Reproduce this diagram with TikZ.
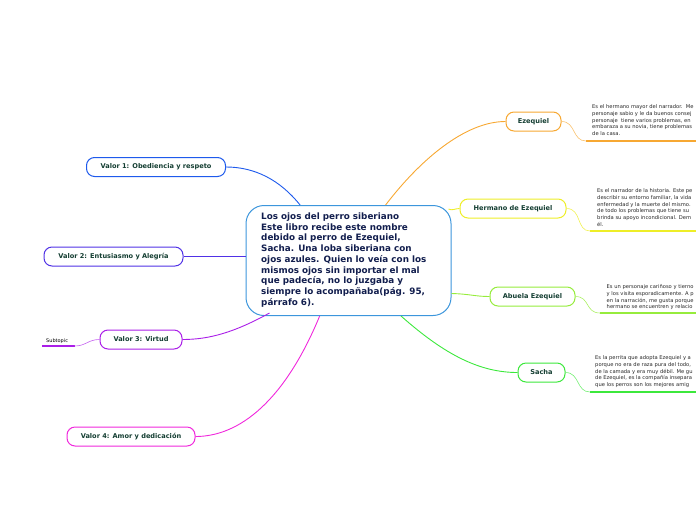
\documentclass[tikz,border=0pt]{standalone}
\usepackage{fontspec}
\setmainfont{DejaVu Sans}
\usetikzlibrary{calc}
\definecolor{cenc}{RGB}{60,150,220}
\definecolor{centxt}{RGB}{18,30,78}
\definecolor{labc}{RGB}{20,62,50}
\definecolor{notec}{RGB}{40,40,40}
\definecolor{ezc}{RGB}{247,168,50}
\definecolor{hec}{RGB}{238,238,40}
\definecolor{abc}{RGB}{150,236,60}
\definecolor{sac}{RGB}{60,232,60}
\definecolor{vac}{RGB}{30,90,236}
\definecolor{vbc}{RGB}{80,50,230}
\definecolor{vcc}{RGB}{170,30,232}
\definecolor{vdc}{RGB}{240,40,220}
\begin{document}
\begin{tikzpicture}[x=1pt,y=-1pt,
  branch/.style={draw, rounded corners=8pt, fill=white, line width=1pt, minimum height=19pt, inner xsep=0pt, inner ysep=0pt, font=\bfseries\fontsize{6.6}{7}\selectfont, text=labc},
  note/.style={anchor=north west, inner sep=0pt, align=left, font=\fontsize{5.2}{6.7}\selectfont, text=notec},
  link/.style={line width=0.9pt},
  sublink/.style={line width=0.6pt},
  uline/.style={line width=2pt}
]
\useasboundingbox (0,0) rectangle (696,520);
\clip (0,0) rectangle (696,520);

% central
\node[draw=cenc, line width=1pt, rounded corners=18pt, fill=white, minimum width=205pt, minimum height=110pt, inner sep=0pt] (c) at (348.5,260.5) {};
\node[anchor=north west, inner sep=0pt, align=left, text=centxt, font=\bfseries\fontsize{8.8}{10.75}\selectfont] (ct) at (261,212.5) {Los ojos del perro siberiano\\Este libro recibe este nombre\\debido al perro de Ezequiel,\\Sacha. Una loba siberiana con\\ojos azules. Quien lo veía con los\\mismos ojos sin importar el mal\\que padecía, no lo juzgaba y\\siempre lo acompañaba(pág. 95,\\párrafo 6).};

% right branches
\node[branch, draw=ezc, minimum width=55pt] (ez) at (533.5,121.5) {Ezequiel};
\node[branch, draw=hec, minimum width=106pt] (he) at (513,208.5) {Hermano de Ezequiel};
\node[branch, draw=abc, minimum width=85pt] (ab) at (532.5,296.5) {Abuela Ezequiel};
\node[branch, draw=sac, minimum width=47pt] (sa) at (541.5,372.5) {Sacha};

% left branches
\node[branch, draw=vac, minimum width=139pt] (v1) at (156,167) {Valor 1: Obediencia y respeto};
\node[branch, draw=vbc, minimum width=139pt] (v2) at (113.5,256.5) {Valor 2: Entusiasmo y Alegría};
\node[branch, draw=vcc, minimum width=82pt] (v3) at (141,339.5) {Valor 3: Virtud};
\node[branch, draw=vdc, minimum width=128pt] (v4) at (131,436.5) {Valor 4: Amor y dedicación};

% subtopic
\node[anchor=base west, inner sep=0pt, font=\fontsize{5}{6}\selectfont, text=black] (st) at (46,342) {Subtopic};
\coordinate (stE) at (74.5,346);
\coordinate (stW) at (42,346);
\draw[vcc, line width=1.2pt] (stW) -- (stE);
\draw[vcc!70, sublink] (v3.west) .. controls (88,339.5) and (86,346) .. (stE);

% main connectors
\draw[ezc, link] ($(c.north west)!0.68!(c.north east)$) .. controls (420,160) and (465,121.5) .. (ez.west);
\draw[hec, link] ($(c.north east)+(-3,4)$) .. controls (452,211) and (455,208.5) .. (he.west);
\draw[abc, link] ($(c.east)+(0,33)$) .. controls (470,294) and (475,296.5) .. (ab.west);
\draw[sac, link] ($(c.south west)!0.755!(c.south east)$) .. controls (445,355) and (480,372.5) .. (sa.west);
\draw[vac, link] ($(c.north west)!0.265!(c.north east)$) .. controls (280,180) and (255,167) .. (v1.east);
\draw[vbc, link] (c.west |- v2.east) -- (v2.east);
\draw[vcc, link] ($(c.south west)+(24,-3)$) .. controls (235,332) and (210,339.5) .. (v3.east);
\draw[vdc, link] ($(c.south west)!0.36!(c.south east)$) .. controls (285,400) and (240,436.5) .. (v4.east);

% notes: Ezequiel
\node[note] (nez) at (592,104.5) {Es el hermano mayor del narrador.\ \ Me\\personaje sabio y le da buenos consej\\personaje\ \ tiene varios problemas, en\\embaraza a su novia, tiene problemas\\de la casa.};
\coordinate (uez) at (586,141);
\draw[ezc, uline] (uez) -- (700,141);
\draw[ezc!70, sublink] (ez.east) .. controls (576,121.5) and (572,141) .. (uez);

% notes: Hermano
\node[note] (nhe) at (597,188.5) {Es el narrador de la historia. Este pe\\describir su entorno familiar, la vida\\enfermedad y la muerte del mismo.\\de todo los problemas que tiene su\\brinda su apoyo incondicional. Dem\\él.};
\coordinate (uhe) at (590,231);
\draw[hec, uline] (uhe) -- (700,231);
\draw[hec!80, sublink] (he.east) .. controls (582,208.5) and (576,231) .. (uhe);

% notes: Abuela
\node[note] (nab) at (606.5,284.5) {Es un personaje cariñoso y tierno\\y los visita esporadicamente. A p\\en la narración, me gusta porque\\hermano se encuentren y relacio};
\coordinate (uab) at (600,313);
\draw[abc, uline] (uab) -- (700,313);
\draw[abc!80, sublink] (ab.east) .. controls (590,296.5) and (585,313) .. (uab);

% notes: Sacha
\node[note] (nsa) at (595,355.5) {Es la perrita que adopta Ezequiel y a\\porque no era de raza pura del todo,\\de la camada y era muy débil. Me gu\\de Ezequiel, es la compañía insepara\\que los perros son los mejores amig};
\coordinate (usa) at (590,392);
\draw[sac, uline] (usa) -- (700,392);
\draw[sac!70, sublink] (sa.east) .. controls (580,372.5) and (576,392) .. (usa);
\end{tikzpicture}
\end{document}
